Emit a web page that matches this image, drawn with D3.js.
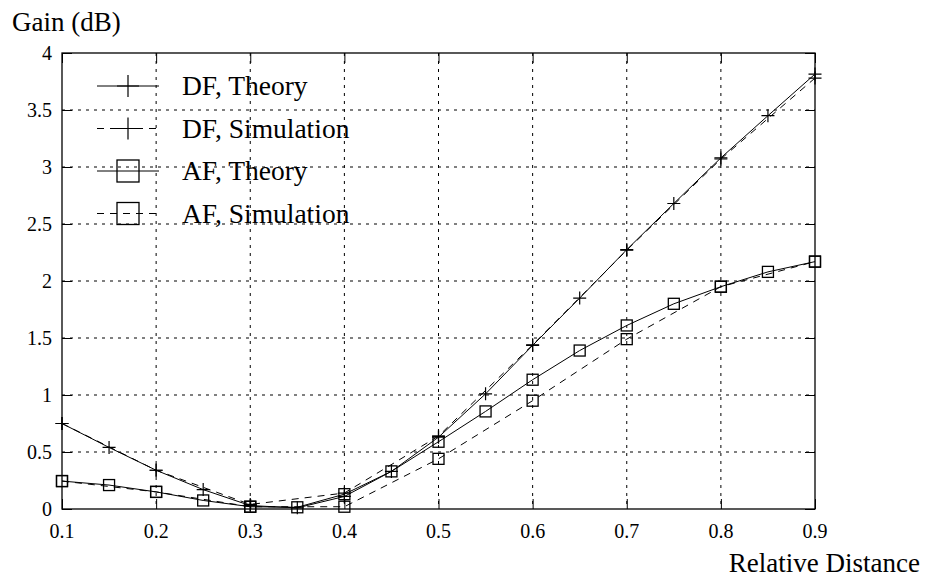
<!DOCTYPE html>
<html lang="en">
<head>
    <meta charset="utf-8">
    <script src="https://cdn.jsdelivr.net/npm/d3@7"></script>
    <style>
        body { margin: 0; background: #fff; }
        svg text { font-family: "Liberation Serif", "Times New Roman", Times, serif; fill: #000; }
        .grid line { stroke: #000; stroke-width: 1; stroke-dasharray: 3,5; }
        .series { fill: none; stroke: #000; stroke-width: 1; }
    </style>
</head>
<body>
<div id="chart"></div>
<script type="text/javascript">
    // theory curves every 0.05, simulation every 0.1
    var xTheory = [0.1, 0.15, 0.2, 0.25, 0.3, 0.35, 0.4, 0.45, 0.5, 0.55, 0.6, 0.65, 0.7, 0.75, 0.8, 0.85, 0.9];
    var xSim = [0.1, 0.2, 0.3, 0.4, 0.5, 0.6, 0.7, 0.8, 0.9];

    var dfTheory = [0.75, 0.54, 0.34, 0.17, 0.03, 0.01, 0.11, 0.33, 0.63, 1.01, 1.435, 1.85, 2.275, 2.68, 3.08, 3.45, 3.815];
    var dfSim = [0.75, 0.34, 0.04, 0.14, 0.64, 1.44, 2.27, 3.07, 3.78];
    var afTheory = [0.245, 0.21, 0.15, 0.075, 0.02, 0.015, 0.13, 0.33, 0.59, 0.856, 1.134, 1.39, 1.61, 1.80, 1.95, 2.08, 2.17];
    var afSim = [0.245, 0.15, 0.02, 0.02, 0.44, 0.95, 1.49, 1.95, 2.17];

    var xTicks = [0.1, 0.2, 0.3, 0.4, 0.5, 0.6, 0.7, 0.8, 0.9];
    var yTicks = [0, 0.5, 1, 1.5, 2, 2.5, 3, 3.5, 4];

    var seriesList = [
        {name: "DF, Theory", xs: xTheory, ys: dfTheory, dashed: false, marker: "plus"},
        {name: "DF, Simulation", xs: xSim, ys: dfSim, dashed: true, marker: "plus"},
        {name: "AF, Theory", xs: xTheory, ys: afTheory, dashed: false, marker: "square"},
        {name: "AF, Simulation", xs: xSim, ys: afSim, dashed: true, marker: "square"}
    ];

    var width = 930, height = 577;
    var plot = {left: 62, right: 815, top: 53, bottom: 509};
    var tickLen = 10;

    var x = d3.scaleLinear().domain([0.1, 0.9]).range([plot.left, plot.right]);
    var y = d3.scaleLinear().domain([0, 4]).range([plot.bottom, plot.top]);

    var svg = d3.select("#chart").append("svg")
        .attr("width", width)
        .attr("height", height);

    // grid
    var grid = svg.append("g").attr("class", "grid");
    grid.selectAll("line.gx")
        .data(xTicks.slice(1, -1))
        .enter().append("line")
        .attr("x1", function(d) { return x(d); })
        .attr("x2", function(d) { return x(d); })
        .attr("y1", plot.top)
        .attr("y2", plot.bottom);
    grid.selectAll("line.gy")
        .data(yTicks.slice(1, -1))
        .enter().append("line")
        .attr("x1", plot.left)
        .attr("x2", plot.right)
        .attr("y1", function(d) { return y(d); })
        .attr("y2", function(d) { return y(d); });

    // inward ticks on all four sides (labels drawn separately below)
    svg.append("g")
        .attr("transform", "translate(0," + plot.bottom + ")")
        .call(d3.axisBottom(x).tickValues(xTicks).tickFormat("").tickSizeInner(-tickLen).tickSizeOuter(0));
    svg.append("g")
        .attr("transform", "translate(0," + plot.top + ")")
        .call(d3.axisTop(x).tickValues(xTicks).tickFormat("").tickSizeInner(-tickLen).tickSizeOuter(0));
    svg.append("g")
        .attr("transform", "translate(" + plot.left + ",0)")
        .call(d3.axisLeft(y).tickValues(yTicks).tickFormat("").tickSizeInner(-tickLen).tickSizeOuter(0));
    svg.append("g")
        .attr("transform", "translate(" + plot.right + ",0)")
        .call(d3.axisRight(y).tickValues(yTicks).tickFormat("").tickSizeInner(-tickLen).tickSizeOuter(0));
    svg.selectAll(".domain").remove();
    svg.selectAll(".tick line").attr("stroke", "#000");

    // tick labels
    svg.append("g").selectAll("text")
        .data(xTicks)
        .enter().append("text")
        .attr("x", function(d) { return x(d); })
        .attr("y", plot.bottom + 29)
        .attr("text-anchor", "middle")
        .style("font-size", "20px")
        .text(function(d) { return String(d); });
    svg.append("g").selectAll("text")
        .data(yTicks)
        .enter().append("text")
        .attr("x", plot.left - 10)
        .attr("y", function(d) { return y(d); })
        .attr("dy", "0.35em")
        .attr("text-anchor", "end")
        .style("font-size", "20px")
        .text(function(d) { return String(d); });

    svg.append("rect")
        .attr("x", plot.left)
        .attr("y", plot.top)
        .attr("width", plot.right - plot.left)
        .attr("height", plot.bottom - plot.top)
        .attr("fill", "none")
        .attr("stroke", "#000")
        .attr("stroke-width", 1.3);

    // axis titles
    svg.append("text")
        .attr("x", 12)
        .attr("y", 31)
        .style("font-size", "27px")
        .text("Gain (dB)");
    svg.append("text")
        .attr("x", 920)
        .attr("y", 572)
        .attr("text-anchor", "end")
        .style("font-size", "27px")
        .text("Relative Distance");

    function drawMarker(g, type, cx, cy, half) {
        if (type === "plus") {
            g.append("path")
                .attr("d", "M" + (cx - half) + "," + cy + "H" + (cx + half) + "M" + cx + "," + (cy - half) + "V" + (cy + half))
                .attr("stroke", "#000")
                .attr("stroke-width", 1.2)
                .attr("fill", "none");
        } else {
            g.append("rect")
                .attr("x", cx - half)
                .attr("y", cy - half)
                .attr("width", half * 2)
                .attr("height", half * 2)
                .attr("stroke", "#000")
                .attr("stroke-width", 1.3)
                .attr("fill", "none");
        }
    }

    // series
    var line = d3.line()
        .x(function(d) { return x(d[0]); })
        .y(function(d) { return y(d[1]); });

    seriesList.forEach(function(s) {
        var pts = s.xs.map(function(v, i) { return [v, s.ys[i]]; });
        var g = svg.append("g");
        g.append("path")
            .datum(pts)
            .attr("class", "series")
            .attr("d", line)
            .attr("stroke-dasharray", s.dashed ? "7,6" : null);
        pts.forEach(function(p) {
            drawMarker(g, s.marker, x(p[0]), y(p[1]), s.marker === "plus" ? 6.5 : 5.5);
        });
    });

    // legend
    var legend = {x1: 97, x2: 159, cx: 128, textX: 182, top: 86, step: 42.5};
    seriesList.forEach(function(s, i) {
        var ly = legend.top + i * legend.step;
        var g = svg.append("g");
        g.append("line")
            .attr("x1", legend.x1)
            .attr("x2", legend.x2)
            .attr("y1", ly)
            .attr("y2", ly)
            .attr("stroke", "#000")
            .attr("stroke-width", 1)
            .attr("stroke-dasharray", s.dashed ? "7,6" : null);
        drawMarker(g, s.marker, legend.cx, ly, 11);
        g.append("text")
            .attr("x", legend.textX)
            .attr("y", ly)
            .attr("dy", "0.33em")
            .style("font-size", "27.5px")
            .text(s.name);
    });
</script>
</body>
</html>
